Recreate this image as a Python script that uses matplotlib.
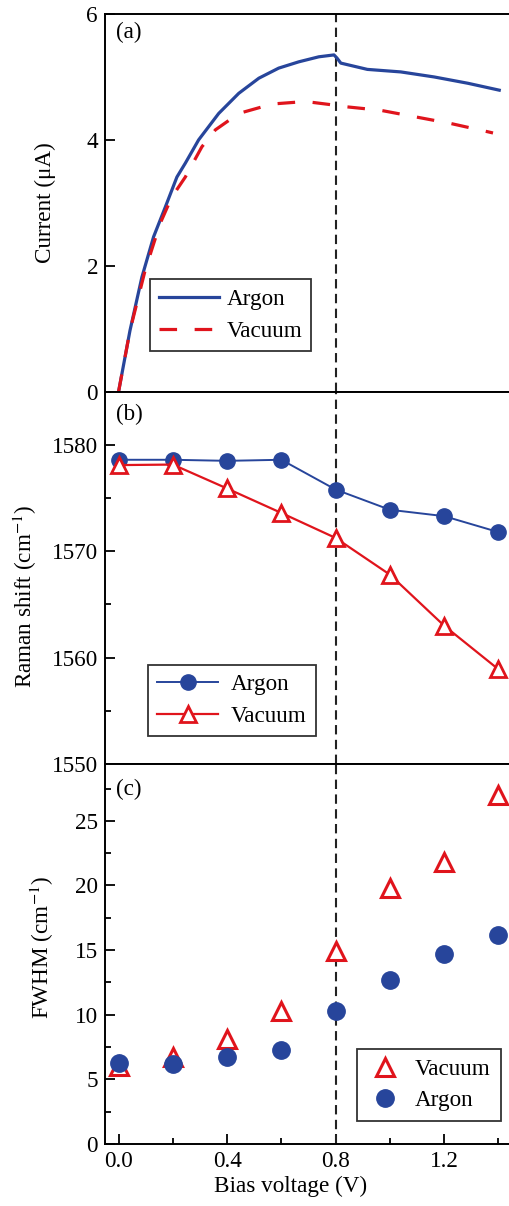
import matplotlib
matplotlib.use("Agg")
import matplotlib.pyplot as plt
from matplotlib.ticker import MultipleLocator

plt.rcParams['font.family'] = ['Liberation Serif', 'DejaVu Serif']
plt.rcParams['mathtext.fontset'] = 'stix'

# ---- data ----
# (a) current vs bias
argon_v = [0.0, 0.042, 0.086, 0.129, 0.172, 0.215, 0.246, 0.295, 0.369, 0.443, 0.517, 0.59, 0.664, 0.738, 0.794, 0.805, 0.819, 0.917, 1.04, 1.163, 1.287, 1.403]
argon_i = [0.0, 0.97, 1.82, 2.46, 2.93, 3.41, 3.63, 4.00, 4.42, 4.74, 4.98, 5.14, 5.24, 5.32, 5.35, 5.30, 5.22, 5.12, 5.08, 5.00, 4.90, 4.79]
vacuum_v = [0.0, 0.042, 0.098, 0.153, 0.196, 0.246, 0.307, 0.357, 0.443, 0.566, 0.689, 0.80, 0.83, 0.966, 1.089, 1.225, 1.36, 1.38]
vacuum_i = [0.0, 0.97, 1.93, 2.67, 3.09, 3.41, 3.89, 4.16, 4.42, 4.57, 4.61, 4.55, 4.53, 4.47, 4.37, 4.26, 4.13, 4.11]

# (b), (c) Raman data
bias = [0.0, 0.2, 0.4, 0.6, 0.8, 1.0, 1.2, 1.4]
raman_argon = [1578.6, 1578.6, 1578.5, 1578.6, 1575.8, 1573.9, 1573.3, 1571.8]
raman_vacuum = [1578.1, 1578.15, 1575.9, 1573.6, 1571.25, 1567.8, 1563.0, 1558.9]
fwhm_argon = [6.3, 6.2, 6.7, 7.3, 10.3, 12.7, 14.7, 16.2]
fwhm_vacuum = [6.0, 6.7, 8.1, 10.3, 14.9, 19.8, 21.8, 27.0]

x_ticks = [0.0, 0.4, 0.8, 1.2]
x_ticklabels = ["0.0", "0.4", "0.8", "1.2"]

BLUE = '#27459b'
RED = '#e0141c'
FS = 16.7

fig = plt.figure(figsize=(5.10, 12.06), dpi=100)
L, R = 105/510, 512/510
W = R - L
ax_a = fig.add_axes([L, 1-391.7/1206, W, (391.7-14)/1206])
ax_b = fig.add_axes([L, 1-764/1206, W, (764-391.7)/1206])
ax_c = fig.add_axes([L, 1-1144/1206, W, (1144-764)/1206])

for ax in (ax_a, ax_b, ax_c):
    ax.set_xlim(-0.05, 1.45)
    for s in ax.spines.values():
        s.set_linewidth(1.4)
    ax.tick_params(direction='in', which='both', width=1.3, labelsize=FS, right=False, top=False, pad=5)
    ax.tick_params(which='major', length=7)
    ax.tick_params(which='minor', length=4)
    ax.axvline(0.8, color='#222222', lw=1.5, dashes=(4.5, 2.6))

# (a)
ax_a.plot(argon_v, argon_i, color=BLUE, lw=2.3, label='Argon')
ax_a.plot(vacuum_v, vacuum_i, color=RED, lw=2.3, dashes=(5.5, 5.5), label='Vacuum')
ax_a.set_ylim(0, 6)
ax_a.set_yticks([0, 2, 4, 6])
ax_a.set_xticks([])
ax_a.set_ylabel('Current (μA)', fontsize=FS, va='center')
ax_a.yaxis.set_label_coords(-0.147, 0.5)
ax_a.text(0.027, 0.95, '(a)', transform=ax_a.transAxes, fontsize=FS, va='center', ha='left')
leg = ax_a.legend(loc='lower left', bbox_to_anchor=(0.11, 0.108), fontsize=FS, frameon=True,
                  fancybox=False, edgecolor='black', handlelength=2.6, borderpad=0.4,
                  labelspacing=0.45, handletextpad=0.3, borderaxespad=0)
leg.get_frame().set_linewidth(1.3)

# (b)
ax_b.plot(bias, raman_argon, color=BLUE, lw=1.4, marker='o', ms=11, mfc=BLUE, mec=BLUE, label='Argon')
ax_b.plot(bias, raman_vacuum, color=RED, lw=1.6, marker='^', ms=12, mfc='white', mec=RED, mew=2, label='Vacuum')
ax_b.set_ylim(1550, 1585)
ax_b.set_yticks([1550, 1560, 1570, 1580])
ax_b.yaxis.set_minor_locator(MultipleLocator(5))
ax_b.set_xticks([])
ax_b.set_ylabel('Raman shift (cm$^{-1}$)', fontsize=FS, va='center')
ax_b.yaxis.set_label_coords(-0.197, 0.449)
ax_b.text(0.027, 0.94, '(b)', transform=ax_b.transAxes, fontsize=FS, va='center', ha='left')
leg = ax_b.legend(loc='lower left', bbox_to_anchor=(0.106, 0.075), fontsize=FS, frameon=True,
                  fancybox=False, edgecolor='black', handlelength=2.6, borderpad=0.4,
                  labelspacing=0.45, handletextpad=0.55, borderaxespad=0)
leg.get_frame().set_linewidth(1.3)

# (c)
ax_c.plot(bias, fwhm_vacuum, ls='none', marker='^', ms=13.5, mfc='white', mec=RED, mew=2.2, label='Vacuum')
ax_c.plot(bias, fwhm_argon, ls='none', marker='o', ms=12.5, mfc=BLUE, mec=BLUE, label='Argon')
ax_c.set_ylim(0, 29.4)
ax_c.set_yticks([0, 5, 10, 15, 20, 25])
ax_c.yaxis.set_minor_locator(MultipleLocator(2.5))
ax_c.set_xticks(x_ticks)
ax_c.set_xticklabels(x_ticklabels)
ax_c.xaxis.set_minor_locator(MultipleLocator(0.2))
ax_c.set_ylabel('FWHM (cm$^{-1}$)', fontsize=FS, va='center')
ax_c.yaxis.set_label_coords(-0.155, 0.516)
ax_c.set_xlabel('Bias voltage (V)', fontsize=FS, x=0.457, labelpad=3)
ax_c.text(0.027, 0.932, '(c)', transform=ax_c.transAxes, fontsize=FS, va='center', ha='left')
leg = ax_c.legend(loc='lower left', bbox_to_anchor=(0.619, 0.06), fontsize=FS, frameon=True,
                  fancybox=False, edgecolor='black', handlelength=1.5, borderpad=0.45,
                  labelspacing=0.4, handletextpad=0.55, borderaxespad=0)
leg.get_frame().set_linewidth(1.3)

fig.savefig('out.png', dpi=100)
